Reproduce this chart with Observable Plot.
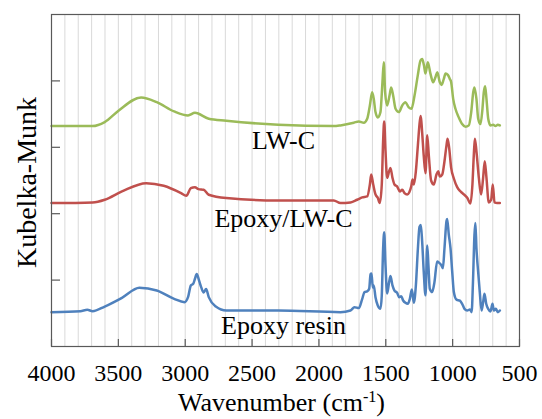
<!DOCTYPE html>
<html>
<head>
<meta charset="utf-8">
<script src="https://cdn.jsdelivr.net/npm/d3@7"></script>
<script src="https://cdn.jsdelivr.net/npm/@observablehq/plot@0.6"></script>
<style>
  html, body { margin: 0; padding: 0; background: #fff; }
  svg { display: block; }
</style>
</head>
<body>
<script>
// ---- Data ----
const lwcWn = [4000,3693,3602,3499,3330,3213,3083,2979,2927,2824,2693,2304,1889,1839,1739,1702,1664,1639,1619,1602,1590,1577,1560,1540,1525,1515,1505,1490,1472,1460,1445,1427,1402,1377,1353,1328,1308,1285,1261,1240,1228,1215,1203,1186,1166,1146,1128,1115,1096,1083,1066,1053,1036,1021,1011,996,979,954,929,904,879,861,846,837,822,809,792,777,767,757,747,734,717,697,680,662,647];
const lwcVal = [3.32,3.32,3.38,3.55,3.75,3.68,3.54,3.48,3.52,3.43,3.40,3.34,3.32,3.33,3.37,3.39,3.37,3.43,3.63,3.83,3.73,3.53,3.45,3.53,3.98,4.28,3.83,3.63,3.78,3.90,3.78,3.58,3.53,3.63,3.68,3.60,3.58,3.78,4.08,4.31,4.33,4.24,4.11,4.28,4.11,3.98,4.06,4.13,3.98,3.94,4.03,4.11,4.09,4.03,3.98,3.73,3.58,3.45,3.35,3.31,3.33,3.53,3.83,3.90,3.73,3.43,3.35,3.58,3.83,3.92,3.73,3.43,3.33,3.34,3.32,3.34,3.33];

const epoxyLwcWn = [4000,3693,3602,3473,3291,3161,3031,2992,2958,2927,2901,2862,2824,2693,2304,1889,1839,1764,1714,1676,1639,1619,1609,1594,1577,1560,1545,1530,1520,1512,1502,1490,1475,1465,1450,1435,1415,1395,1377,1360,1340,1325,1310,1300,1290,1275,1260,1245,1238,1228,1216,1203,1190,1178,1161,1141,1121,1108,1096,1078,1061,1046,1038,1026,1011,991,966,941,916,891,867,852,842,834,822,804,787,772,760,747,730,712,700,687,667,647];
const epoxyLwcVal = [2.16,2.17,2.21,2.335,2.46,2.42,2.31,2.27,2.385,2.40,2.37,2.36,2.285,2.235,2.20,2.20,2.16,2.17,2.21,2.245,2.26,2.44,2.59,2.44,2.29,2.24,2.16,2.44,3.09,3.39,2.94,2.54,2.64,2.69,2.54,2.44,2.41,2.335,2.36,2.31,2.29,2.32,2.41,2.515,2.44,2.64,3.03,3.40,3.47,3.22,2.87,2.61,3.18,2.87,2.50,2.44,2.59,2.64,2.56,2.59,2.79,3.03,3.13,2.99,2.69,2.53,2.40,2.335,2.29,2.24,2.154,2.44,2.87,3.13,2.94,2.54,2.29,2.54,2.79,2.54,2.17,2.21,2.44,2.17,2.16,2.16];

const epoxyWn = [4000,3784,3732,3693,3602,3473,3343,3213,3083,3005,2979,2958,2940,2927,2914,2896,2880,2862,2844,2824,2771,2693,2304,1839,1764,1734,1702,1676,1659,1639,1624,1614,1607,1597,1590,1577,1560,1540,1530,1520,1512,1502,1490,1475,1465,1450,1435,1415,1400,1385,1370,1353,1335,1320,1305,1290,1275,1260,1248,1238,1228,1216,1203,1190,1181,1171,1153,1136,1116,1101,1086,1073,1061,1046,1041,1029,1016,1003,991,971,946,929,911,891,871,858,848,837,830,822,809,797,784,772,762,749,734,717,702,692,677,662,647];
const epoxyVal = [0.517,0.532,0.553,0.532,0.602,0.733,0.884,0.843,0.718,0.668,0.743,0.919,0.944,1.02,1.09,0.99,0.89,0.815,0.865,0.743,0.602,0.542,0.542,0.517,0.542,0.592,0.578,0.718,0.82,0.83,0.87,1.09,1.10,0.89,0.92,0.743,0.617,0.567,0.768,1.47,1.72,1.22,0.798,0.97,1.06,0.92,0.843,0.808,0.743,0.758,0.693,0.658,0.643,0.718,0.858,0.658,0.92,1.47,1.80,1.83,1.58,1.12,0.77,1.52,1.22,0.87,0.82,0.97,1.28,1.26,1.23,1.18,1.48,1.89,1.92,1.69,1.48,1.12,0.82,0.705,0.69,0.643,0.567,0.542,0.557,0.517,0.97,1.68,1.86,1.48,1.12,0.82,0.542,0.668,0.793,0.643,0.567,0.527,0.643,0.542,0.567,0.517,0.542];

const seriesNames = ["LW-C", "Epoxy/LW-C", "Epoxy resin"];
const seriesColors = ["#9bbb59", "#c0504d", "#4f81bd"];
const labelWn = [2265, 2265, 2265];
const labelVal = [2.977, 1.797, 0.191];

const xTickLabels = [4000, 3500, 3000, 2500, 2000, 1500, 1000, 500];
const yTicks = [1, 2, 3, 4];
const gridX = d3.range(600, 4000, 100);
const xTitle = "Wavenumber (cm-1)";
const yTitle = "Kubelka-Munk";

// ---- Build tables ----
const toRows = (wn, val, name) => wn.map((w, i) => ({wn: w, v: val[i], series: name}));
const rows = [
  ...toRows(lwcWn, lwcVal, seriesNames[0]),
  ...toRows(epoxyLwcWn, epoxyLwcVal, seriesNames[1]),
  ...toRows(epoxyWn, epoxyVal, seriesNames[2])
];
const labels = seriesNames.map((n, i) => ({name: n, wn: labelWn[i], v: labelVal[i]}));

const W = 542, H = 419;
const mL = 51, mR = 23, mT = 14, mB = 73;
const plotW = W - mL - mR, plotH = H - mT - mB;

const chart = Plot.plot({
  width: W,
  height: H,
  marginLeft: mL,
  marginRight: mR,
  marginTop: mT,
  marginBottom: mB,
  style: {fontFamily: "'Liberation Serif', 'Times New Roman', serif", background: "#fff", overflow: "visible"},
  x: {domain: [4000, 500], axis: null},
  y: {domain: [0, 5], axis: null},
  color: {domain: seriesNames, range: seriesColors},
  marks: [
    Plot.ruleX(gridX, {stroke: "#d9d9d9", strokeWidth: 1}),
    Plot.line(rows, {x: "wn", y: "v", z: "series", stroke: "series", strokeWidth: 2.5, curve: "monotone-x"}),
    Plot.frame({stroke: "#595959", strokeWidth: 1.2}),
    Plot.ruleX(xTickLabels, {stroke: "#595959", strokeWidth: 1.2, insetTop: plotH - 7}),
    Plot.ruleY(yTicks, {stroke: "#595959", strokeWidth: 1.2, insetRight: plotW - 9}),
    Plot.text(xTickLabels, {x: d => d, text: d => String(d), frameAnchor: "bottom", dy: 34, lineAnchor: "bottom", fontSize: 24, fill: "#000"}),
    Plot.text([xTitle], {frameAnchor: "bottom", text: d => d, dy: 64, dx: -4, lineAnchor: "bottom", fontSize: 26, fill: "#000"}),
    Plot.text([yTitle], {frameAnchor: "left", text: d => d, rotate: -90, dx: -16, dy: 2, lineAnchor: "bottom", textAnchor: "middle", fontSize: 28, fill: "#000"}),
    Plot.text(labels, {x: "wn", y: "v", text: "name", lineAnchor: "bottom", fontSize: 26, fill: "#000"})
  ]
});

// Superscript for the unit in the x title
d3.select(chart).selectAll("text")
  .filter(function() { return this.textContent === xTitle; })
  .each(function() {
    const t = d3.select(this);
    t.text("");
    t.append("tspan").text("Wavenumber (cm");
    t.append("tspan").attr("dy", "-0.5em").attr("font-size", "0.62em").text("-1");
    t.append("tspan").attr("dy", "0.31em").text(")");
  });

document.body.append(chart);
</script>
</body>
</html>
